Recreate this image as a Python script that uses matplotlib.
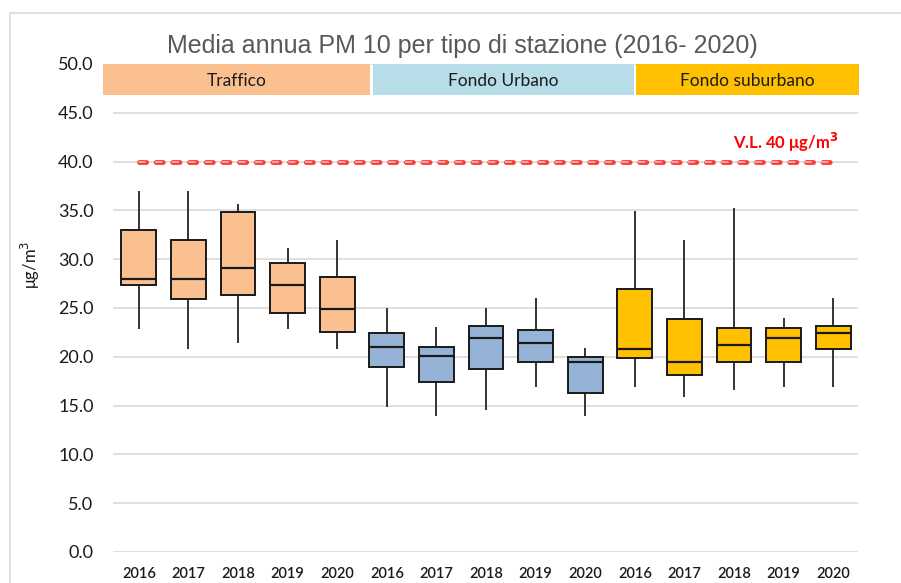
import numpy as np
import matplotlib
matplotlib.use("Agg")
import matplotlib.pyplot as plt
from matplotlib.patches import Rectangle

# categories / labels
groups = ["Traffico", "Fondo Urbano", "Fondo suburbano"]
years = ["2016", "2017", "2018", "2019", "2020"]
tick_labels = years * 3

# box statistics (ug/m3), 5 per station type
whisk_lo = [22.9, 20.9, 21.5, 22.9, 20.9,
            14.95, 14.0, 14.7, 17.0, 14.0,
            17.0, 16.0, 16.75, 17.0, 17.0]
q1 = [27.35, 25.95, 26.35, 24.5, 22.5,
      19.0, 17.45, 18.7, 19.45, 16.3,
      19.85, 18.15, 19.45, 19.45, 20.85]
med = [27.95, 28.0, 29.1, 27.35, 24.9,
       21.0, 20.05, 21.9, 21.4, 19.45,
       20.85, 19.45, 21.2, 21.9, 22.45]
q3 = [33.0, 32.0, 34.8, 29.65, 28.2,
      22.45, 21.0, 23.2, 22.7, 20.0,
      26.9, 23.9, 22.9, 22.9, 23.2]
whisk_hi = [36.9, 36.9, 35.6, 31.0, 31.9,
            24.9, 22.9, 24.9, 25.9, 20.85,
            34.8, 31.9, 35.1, 23.85, 25.9]
limit_value = 40.0

box_colors = ["#FAC090", "#95B3D7", "#FFC000"]
head_colors = ["#FAC090", "#B7DDE8", "#FFC000"]

plt.rcParams['font.family'] = ['Lato', 'DejaVu Sans']

fig = plt.figure(figsize=(9.01, 5.83), dpi=100)
ax = fig.add_axes([113/901, 1-552/583, (858-113)/901, (552-64)/583])

# light outer frame of the original chart area
fig.patches.append(Rectangle((10/901, -0.1), 1.2, 1.1 - 13/583,
                             transform=fig.transFigure, fill=False,
                             edgecolor="#D9D9D9", lw=1.2))

stats = []
for i in range(len(med)):
    stats.append(dict(whislo=whisk_lo[i], q1=q1[i], med=med[i], q3=q3[i],
                      whishi=whisk_hi[i], fliers=[]))
pos = np.arange(len(stats))
bp = ax.bxp(stats, positions=pos, widths=0.7, patch_artist=True,
            showcaps=False, showfliers=False,
            boxprops=dict(edgecolor="#1a1a1a", linewidth=1.4),
            medianprops=dict(color="#1a1a1a", linewidth=1.6),
            whiskerprops=dict(color="#333333", linewidth=1.4))
for i, b in enumerate(bp["boxes"]):
    b.set_facecolor(box_colors[i // 5])
    b.set_zorder(3)
for m in bp["medians"]:
    m.set_zorder(4)

# limit value line
ax.plot([pos[0], pos[-1]], [limit_value, limit_value], color="#FF3B3B", lw=3.5,
        dashes=(1.46, 1.97), dash_capstyle="round", zorder=5)
ax.plot([pos[0], pos[-1]], [limit_value, limit_value], color="#FFC4C4", lw=1.1,
        dashes=(4.0, 6.9), dash_capstyle="round", zorder=6)
ax.text(14.1, 40.8, "V.L. 40 μg/m$^\\mathbf{3}$", color="#FF0000", fontsize=12,
        fontweight="bold", ha="right", va="bottom", zorder=6)

# header bands for station types
bands = [(-0.72, 4.66), (4.72, 9.98), (10.02, 14.52)]
for (x0, x1), name, c in zip(bands, groups, head_colors):
    ax.add_patch(Rectangle((x0, 46.8), x1 - x0, 3.25, facecolor=c,
                           edgecolor="none", clip_on=False, zorder=7))
    ax.text((x0 + x1) / 2, 48.3, name, ha="center", va="center",
            fontsize=12.5, color="#1a1a1a", zorder=8)

ax.set_xlim(-0.52, 14.5)
ax.set_ylim(0, 50)
ax.set_yticks(np.arange(0, 50.1, 5))
ax.set_yticklabels(["%.1f" % v for v in np.arange(0, 50.1, 5)])
ax.set_xticks(pos)
ax.set_xticklabels(tick_labels)
ax.tick_params(axis="y", length=0, pad=14, labelsize=13, labelcolor="#1a1a1a")
ax.tick_params(axis="x", length=0, pad=11, labelsize=10.5, labelcolor="#1a1a1a")
for lab in ax.get_xticklabels():
    lab.set_fontweight("semibold")
for s in ax.spines.values():
    s.set_visible(False)
ax.yaxis.grid(True, color="#D9D9D9", lw=1.2, zorder=0)
ax.set_axisbelow(True)

fig.text(30/901, 1-265/583, "μg/m$^3$", rotation=90, ha="center", va="center",
         fontsize=12, color="#1a1a1a")
fig.text(462/901, 1-46/583, "Media annua PM 10 per tipo di stazione (2016- 2020)",
         ha="center", va="center", fontsize=18, color="#595959",
         family="Liberation Sans")

fig.savefig("out.png", dpi=100)
